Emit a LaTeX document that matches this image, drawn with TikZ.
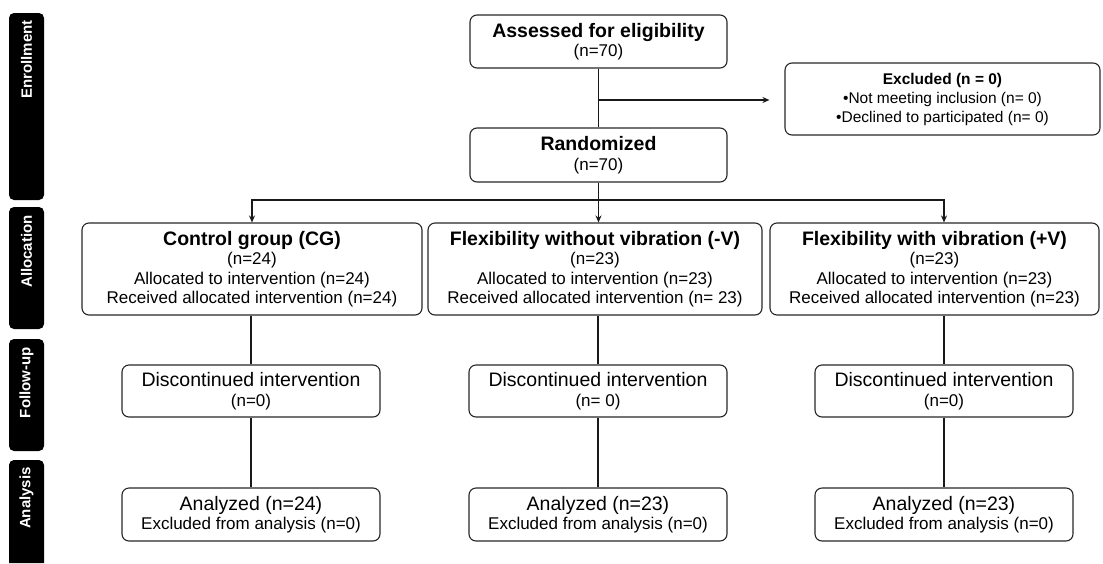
\documentclass[tikz,border=0pt]{standalone}
\usepackage{fontspec}
\setmainfont{Liberation Sans}
\usetikzlibrary{arrows.meta}

% fonts of the boxes
\newcommand{\hdfont}{\bfseries\fontsize{19.5}{21}\selectfont}
\newcommand{\bgfont}{\fontsize{19.5}{21}\selectfont}
\newcommand{\txtfont}{\fontsize{17}{19.5}\selectfont}
\newcommand{\smfont}{\fontsize{15.5}{19}\selectfont}

\tikzset{
  box/.style={draw=black!85, line width=1.1pt, rounded corners=7pt, align=center, inner sep=0pt, font=\txtfont},
  phase/.style={fill=black, rounded corners=5pt},
  phaselabel/.style={text=white, font=\bfseries\fontsize{15}{16}\selectfont, rotate=90, anchor=east, inner sep=0pt},
  link/.style={line width=1.3pt, draw=black!90},
  arr/.style={link, -{Stealth[length=7pt,width=6pt]}},
}

\begin{document}
\begin{tikzpicture}[x=1pt, y=-1pt]
    \useasboundingbox (0,0) rectangle (1103,563);

    % Phase bars on the left
    \fill[phase] (9,13) rectangle (44,200);
    \fill[phase] (9,207) rectangle (44,329);
    \fill[phase] (9,339) rectangle (44,451);
    \fill[phase] (9,563) -- (9,460) -- (44,460) -- (44,563);
    \node (enrol) at (26.5,20) [phaselabel] {Enrollment};
    \node (alloc) at (26.5,215) [phaselabel] {Allocation};
    \node (follow) at (26.5,347) [phaselabel] {Follow-up};
    \node (analy) at (26.5,467) [phaselabel] {Analysis};

    % Enrollment
    \node (assess) at (598.5,41.5) [box, minimum width=257pt, minimum height=53pt]
        {\hdfont Assessed for eligibility\\(n=70)};
    \node (rand) at (598.5,155) [box, minimum width=257pt, minimum height=54pt]
        {\hdfont Randomized\\[1pt](n=70)};
    \node (excl) at (942.5,99) [box, font=\smfont, minimum width=315pt, minimum height=72pt]
        {\bfseries Excluded (n = 0)\\•Not meeting inclusion (n= 0)\\•Declined to participated (n= 0)};

    % Allocation
    \node (cg) at (252,269) [box, minimum width=340pt, minimum height=92pt]
        {\hdfont Control group (CG)\\(n=24)\\Allocated to intervention (n=24)\\Received allocated intervention (n=24)};
    \node (nv) at (595,269) [box, minimum width=334pt, minimum height=92pt]
        {\hdfont Flexibility without vibration (-V)\\(n=23)\\Allocated to intervention (n=23)\\Received allocated intervention (n= 23)};
    \node (pv) at (934.5,269) [box, minimum width=329pt, minimum height=92pt]
        {\hdfont Flexibility with vibration (+V)\\(n=23)\\Allocated to intervention (n=23)\\Received allocated intervention (n=23)};

    % Follow-up
    \node (dis1) at (251,391) [box, minimum width=258pt, minimum height=52pt]
        {\bgfont Discontinued intervention\\(n=0)};
    \node (dis2) at (598,391) [box, minimum width=258pt, minimum height=52pt]
        {\bgfont Discontinued intervention\\(n= 0)};
    \node (dis3) at (944,391) [box, minimum width=258pt, minimum height=52pt]
        {\bgfont Discontinued intervention\\(n=0)};

    % Analysis
    \node (ana1) at (251,514.5) [box, minimum width=258pt, minimum height=53pt]
        {\bgfont Analyzed (n=24)\\Excluded from analysis (n=0)};
    \node (ana2) at (598,514.5) [box, minimum width=258pt, minimum height=53pt]
        {\bgfont Analyzed (n=23)\\Excluded from analysis (n=0)};
    \node (ana3) at (944,514.5) [box, minimum width=258pt, minimum height=53pt]
        {\bgfont Analyzed (n=23)\\Excluded from analysis (n=0)};

    % Connectors
    \coordinate (branch) at (598.5,100);
    \coordinate (split) at (598.5,200);
    \draw[link] (assess) -- (rand);
    \draw[arr, shorten >=15pt] (branch) -- (branch -| excl.west);
    \draw[link] (rand) -- (split);
    \draw[arr] (split) -- (split |- nv.north);
    \draw[arr] (split) -| (cg.north);
    \draw[arr] (split) -| (pv.north -| dis3.north);
    \draw[link] (dis1.north |- cg.south) -- (dis1);
    \draw[link] (dis2.north |- nv.south) -- (dis2);
    \draw[link] (dis3.north |- pv.south) -- (dis3);
    \draw[link] (dis1) -- (ana1);
    \draw[link] (dis2) -- (ana2);
    \draw[link] (dis3) -- (ana3);
\end{tikzpicture}
\end{document}
